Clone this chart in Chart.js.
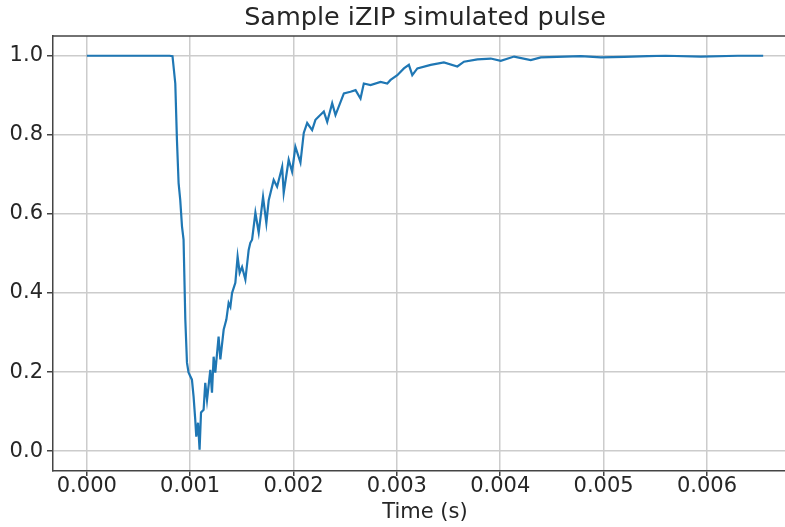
<!DOCTYPE html>
<html lang="en">
<head>
  <meta charset="UTF-8">
  <title>Sample iZIP simulated pulse</title>
  <script src="https://cdn.jsdelivr.net/npm/chart.js"></script>
  <style>
    html, body { margin: 0; padding: 0; background: #fff; overflow: hidden; }
    canvas { display: block; }
  </style>
</head>
<body>
  <canvas id="pulseChart" width="850" height="527"></canvas>

  <script>
    // Sample times (s) and normalised pulse amplitude
    const timeS = [
      0.000000, 0.000800, 0.000829, 0.000856, 0.000872, 0.000888, 0.000904, 0.000921,
      0.000936, 0.000953, 0.000969, 0.000984, 0.001017, 0.001033, 0.001049, 0.001059,
      0.001076, 0.001091, 0.001105, 0.001130, 0.001146, 0.001163, 0.001195, 0.001211,
      0.001227, 0.001243, 0.001275, 0.001292, 0.001324, 0.001350, 0.001372, 0.001389,
      0.001405, 0.001437, 0.001459, 0.001479, 0.001502, 0.001534, 0.001566, 0.001582,
      0.001599, 0.001631, 0.001663, 0.001705, 0.001737, 0.001760, 0.001808, 0.001841,
      0.001890, 0.001905, 0.001953, 0.001986, 0.002018, 0.002067, 0.002099, 0.002132,
      0.002180, 0.002212, 0.002293, 0.002326, 0.002374, 0.002406, 0.002487, 0.002551,
      0.002600, 0.002648, 0.002680, 0.002745, 0.002842, 0.002907, 0.002939, 0.003004,
      0.003068, 0.003116, 0.003149, 0.003198, 0.003327, 0.003455, 0.003585, 0.003649,
      0.003779, 0.003908, 0.004005, 0.004134, 0.004295, 0.004393, 0.004780, 0.004974,
      0.005200, 0.005426, 0.005600, 0.005942, 0.006300, 0.006544
    ];
    const pulse = [
      1.000, 1.000, 0.999, 0.930, 0.787, 0.678, 0.635, 0.568,
      0.535, 0.333, 0.224, 0.199, 0.181, 0.138, 0.080, 0.037,
      0.072, 0.004, 0.098, 0.105, 0.173, 0.130, 0.206, 0.148,
      0.239, 0.199, 0.290, 0.232, 0.307, 0.333, 0.375, 0.365,
      0.400, 0.426, 0.492, 0.451, 0.466, 0.434, 0.509, 0.527,
      0.535, 0.603, 0.553, 0.643, 0.577, 0.635, 0.686, 0.669,
      0.719, 0.653, 0.737, 0.707, 0.770, 0.730, 0.805, 0.830,
      0.812, 0.838, 0.859, 0.833, 0.880, 0.850, 0.905, 0.909,
      0.913, 0.892, 0.930, 0.926, 0.934, 0.930, 0.939, 0.951,
      0.968, 0.977, 0.951, 0.968, 0.977, 0.983, 0.973, 0.985,
      0.991, 0.993, 0.987, 0.998, 0.989, 0.996, 0.999, 0.996,
      0.997, 0.999, 1.000, 0.998, 1.000, 1.000
    ];

    const xTicks = [0.000, 0.001, 0.002, 0.003, 0.004, 0.005, 0.006];
    const yTicks = [0.0, 0.2, 0.4, 0.6, 0.8, 1.0];

    const ink = '#262626';
    const spine = '#444444';
    const gridColor = '#cccccc';
    const font = 'DejaVu Sans';

    // matplotlib-style 5% margins around the data
    const xSpan = timeS[timeS.length - 1] - timeS[0];
    const xMin = timeS[0] - 0.05 * xSpan;
    const xMax = timeS[timeS.length - 1] + 0.05 * xSpan;

    // top/right spines and a title centred over the axes rather than the canvas
    const framePlugin = {
      id: 'frame',
      afterDraw(chart) {
        const { ctx, chartArea: a } = chart;
        ctx.save();
        ctx.strokeStyle = spine;
        ctx.lineWidth = 1.5;
        ctx.beginPath();
        ctx.moveTo(a.left, a.top);
        ctx.lineTo(a.right, a.top);
        ctx.lineTo(a.right, a.bottom);
        ctx.stroke();

        ctx.fillStyle = ink;
        ctx.font = '25.5px "DejaVu Sans"';
        ctx.textAlign = 'center';
        ctx.textBaseline = 'middle';
        ctx.fillText('Sample iZIP simulated pulse', (a.left + a.right) / 2, a.top / 2);
        ctx.restore();
      }
    };

    const ctx = document.getElementById('pulseChart').getContext('2d');
    new Chart(ctx, {
      type: 'line',
      data: {
        datasets: [{
          data: timeS.map((t, i) => ({ x: t, y: pulse[i] })),
          borderColor: '#1f77b4',
          borderWidth: 2.2,
          pointRadius: 0,
          tension: 0,
          fill: false
        }]
      },
      options: {
        responsive: false,
        animation: false,
        layout: { padding: { left: 0, right: 53, top: 36, bottom: 0 } },
        plugins: {
          legend: { display: false },
          tooltip: { enabled: false },
          title: { display: false }
        },
        scales: {
          x: {
            type: 'linear',
            min: xMin,
            max: xMax,
            afterBuildTicks: s => { s.ticks = xTicks.map(v => ({ value: v })); },
            afterFit: s => { s.height = 56; },
            ticks: {
              color: ink,
              font: { family: font, size: 21, lineHeight: 1.0 },
              padding: 0,
              autoSkip: false,
              maxRotation: 0,
              callback: v => v.toFixed(3)
            },
            grid: { color: gridColor, lineWidth: 1.5, tickColor: spine, tickLength: 5, tickWidth: 1.5 },
            border: { display: true, color: spine, width: 1.5 },
            title: {
              display: true,
              text: 'Time (s)',
              color: ink,
              font: { family: font, size: 21, lineHeight: 1.2 },
              padding: { top: 0, bottom: 2 }
            }
          },
          y: {
            min: -0.05,
            max: 1.05,
            afterBuildTicks: s => { s.ticks = yTicks.map(v => ({ value: v })); },
            afterFit: s => { s.width = 53; },
            ticks: {
              color: ink,
              font: { family: font, size: 21 },
              padding: 4,
              callback: v => v.toFixed(1)
            },
            grid: { color: gridColor, lineWidth: 1.5, tickColor: spine, tickLength: 6, tickWidth: 1.5 },
            border: { display: true, color: spine, width: 1.5 }
          }
        }
      },
      plugins: [framePlugin]
    });
  </script>
</body>
</html>
